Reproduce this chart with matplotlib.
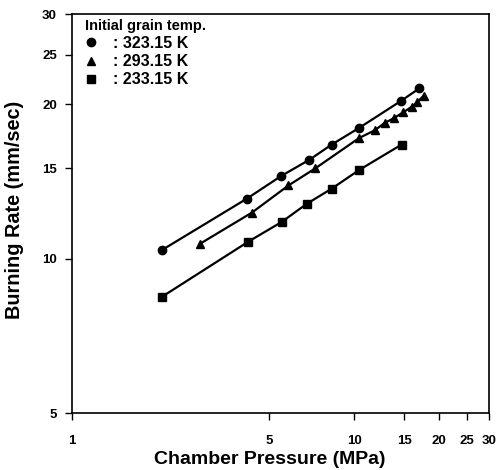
import numpy as np
import matplotlib.pyplot as plt
from matplotlib.lines import Line2D
from matplotlib.ticker import FixedLocator, NullLocator, FixedFormatter

plt.rcParams['font.family'] = ['Liberation Sans', 'DejaVu Sans']

# data (pressure in MPa, burning rate in mm/sec)
p_323 = [2.08, 4.16, 5.50, 6.93, 8.31, 10.4, 14.6, 17.0]
r_323 = [10.4, 13.1, 14.5, 15.6, 16.7, 18.0, 20.3, 21.5]

p_293 = [2.84, 4.33, 5.84, 7.26, 10.4, 11.8, 12.8, 13.8, 14.9, 16.0, 16.7, 17.6]
r_293 = [10.7, 12.3, 13.9, 15.0, 17.2, 17.8, 18.4, 18.8, 19.3, 19.8, 20.2, 20.8]

p_233 = [2.08, 4.21, 5.53, 6.78, 8.31, 10.4, 14.7]
r_233 = [8.43, 10.8, 11.8, 12.8, 13.7, 14.9, 16.7]

labels = [': 323.15 K', ': 293.15 K', ': 233.15 K']
markers = ['o', '^', 's']
xticks = [1, 5, 10, 15, 20, 25, 30]
yticks = [5, 10, 15, 20, 25, 30]

fig = plt.figure(figsize=(4.98, 4.70), dpi=100)
ax = fig.add_axes([0.145, 0.121, 0.837, 0.849])

ax.plot(p_323, r_323, '-o', color='black', lw=1.6, ms=6)
ax.plot(p_293, r_293, '-^', color='black', lw=1.6, ms=6)
ax.plot(p_233, r_233, '-s', color='black', lw=1.6, ms=5.5)

ax.set_xscale('log')
ax.set_yscale('log')
ax.set_xlim(1, 30)
ax.set_ylim(5, 30)

ax.xaxis.set_major_locator(FixedLocator(xticks))
ax.xaxis.set_major_formatter(FixedFormatter([str(t) for t in xticks]))
ax.xaxis.set_minor_locator(NullLocator())
ax.yaxis.set_major_locator(FixedLocator(yticks))
ax.yaxis.set_major_formatter(FixedFormatter([str(t) for t in yticks]))
ax.yaxis.set_minor_locator(NullLocator())

ax.tick_params(direction='out', length=5, width=1, labelsize=9.5, pad=6)
ax.tick_params(axis='x', pad=11)
for lbl in ax.get_xticklabels() + ax.get_yticklabels():
    lbl.set_fontweight('bold')
for s in ax.spines.values():
    s.set_linewidth(1.2)

ax.set_xlabel('Chamber Pressure (MPa)', fontsize=14, fontweight='bold')
ax.xaxis.set_label_coords(0.475, -0.095)
ax.set_ylabel('Burning Rate (mm/sec)', fontsize=14.3, fontweight='bold')
ax.yaxis.set_label_coords(-0.115, 0.51)

handles = [Line2D([], [], marker=m, ls='none', color='black', ms=6) for m in markers]
leg = ax.legend(handles, labels, loc='upper left', bbox_to_anchor=(0.011, 1.008),
                frameon=False, title='Initial grain temp.',
                prop={'size': 11.5, 'weight': 'bold'}, handlelength=0.8,
                handletextpad=0.94, borderaxespad=0.2, labelspacing=0.2,
                alignment='left', borderpad=0.3)
leg.get_title().set_fontsize(10.5)
leg.get_title().set_fontweight('bold')

fig.savefig('out.png', dpi=100)
